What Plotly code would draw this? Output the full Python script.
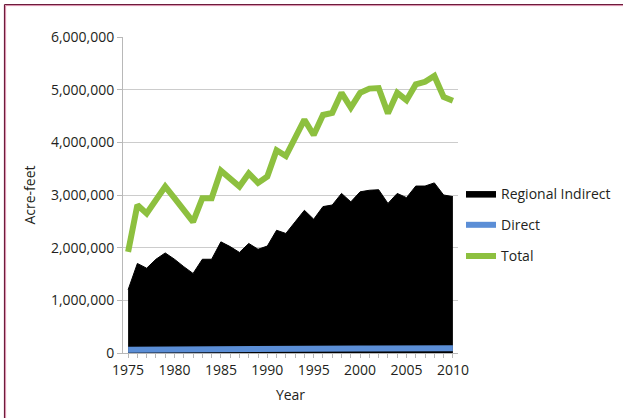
import plotly.graph_objects as go

years = list(range(1975, 2011))
regional_indirect = [1200000, 1700000, 1610000, 1780000, 1900000, 1780000, 1640000, 1510000, 1780000, 1780000,
                     2110000, 2020000, 1910000, 2080000, 1970000, 2030000, 2330000, 2270000, 2490000, 2710000,
                     2540000, 2780000, 2810000, 3030000, 2870000, 3060000, 3090000, 3100000, 2840000, 3030000,
                     2950000, 3170000, 3170000, 3230000, 3000000, 2970000]
direct = [60000, 62000, 63000, 64000, 65000, 66000, 66000, 67000, 68000, 69000,
          70000, 71000, 72000, 73000, 74000, 75000, 76000, 77000, 78000, 79000,
          80000, 81000, 82000, 83000, 84000, 85000, 85000, 86000, 86000, 87000,
          87000, 88000, 88000, 89000, 89000, 90000]
total = [1920000, 2810000, 2650000, 2900000, 3160000, 2940000, 2710000, 2490000, 2940000, 2940000,
         3460000, 3320000, 3160000, 3410000, 3230000, 3350000, 3850000, 3740000, 4100000, 4430000,
         4140000, 4520000, 4560000, 4940000, 4660000, 4940000, 5020000, 5030000, 4550000, 4940000,
         4800000, 5100000, 5150000, 5260000, 4860000, 4790000]
y_ticks = [0, 1000000, 2000000, 3000000, 4000000, 5000000, 6000000]
x_ticks = [1975, 1980, 1985, 1990, 1995, 2000, 2005, 2010]

FONT = "Open Sans"
TXT = "#231f20"

fig = go.Figure()
fig.add_trace(go.Scatter(x=years, y=regional_indirect, name="Regional Indirect", mode="lines",
                         fill="tozeroy", fillcolor="#000000", line=dict(color="#000000", width=1),
                         legendgroup="a"))
fig.add_trace(go.Scatter(x=years, y=direct, name="Direct", mode="lines",
                         line=dict(color="#5b8ed6", width=6), legendgroup="b"))
fig.add_trace(go.Scatter(x=years, y=total, name="Total", mode="lines",
                         line=dict(color="#8dc03f", width=6), legendgroup="c"))

L, R, T, B = 123, 458, 37, 353
W, H = 623, 418
pw, ph = R - L, B - T

def px(x):
    return (x - L) / pw

def py(y):
    return (B - y) / ph

shapes = [
    dict(type="line", xref="paper", yref="paper", x0=px(4.5), x1=px(W), y0=py(4.5), y1=py(4.5),
         line=dict(color="#6d1b3b", width=1.2)),
    dict(type="line", xref="paper", yref="paper", x0=px(5.5), x1=px(W), y0=py(5.6), y1=py(5.6),
         line=dict(color="#d88aa8", width=1)),
    dict(type="line", xref="paper", yref="paper", x0=px(4.5), x1=px(4.5), y0=py(4.5), y1=py(H),
         line=dict(color="#6d1b3b", width=1.2)),
    dict(type="line", xref="paper", yref="paper", x0=px(5.6), x1=px(5.6), y0=py(5.5), y1=py(H),
         line=dict(color="#d88aa8", width=1)),
]

fig.update_layout(
    width=W, height=H,
    margin=dict(l=L, r=W - R, t=T, b=H - B, pad=0, autoexpand=False),
    paper_bgcolor="white", plot_bgcolor="white",
    font=dict(family=FONT, size=14, color=TXT),
    showlegend=True,
    legend=dict(x=px(461), y=py(178), xanchor="left", yanchor="top",
                font=dict(family=FONT, size=14, color=TXT),
                tracegroupgap=10, bgcolor="rgba(0,0,0,0)"),
    shapes=shapes,
    xaxis=dict(range=[1974.45, 2010.55], tickvals=x_ticks, ticktext=[str(v) for v in x_ticks],
               showgrid=False, zeroline=False, showline=True, linecolor="#b8b8b8", linewidth=1,
               ticks="outside", ticklen=4, tickcolor="#b8b8b8",
               minor=dict(dtick=1, tick0=1975, ticks="outside", ticklen=4, tickcolor="#b8b8b8", showgrid=False),
               tickfont=dict(family=FONT, size=14, color=TXT),
               title=dict(text="Year", font=dict(family=FONT, size=14, color=TXT), standoff=12)),
    yaxis=dict(range=[0, 6000000], tickvals=y_ticks, ticktext=[f"{v:,}" for v in y_ticks],
               showgrid=True, gridcolor="#cccccc", gridwidth=1.3, zeroline=False,
               showline=True, linecolor="#b8b8b8", linewidth=1,
               ticks="outside", ticklen=5, tickcolor="#b8b8b8",
               tickfont=dict(family=FONT, size=14, color=TXT),
               title=dict(text="Acre-feet", font=dict(family=FONT, size=14, color=TXT), standoff=12)),
)

fig.write_html("out.html")
